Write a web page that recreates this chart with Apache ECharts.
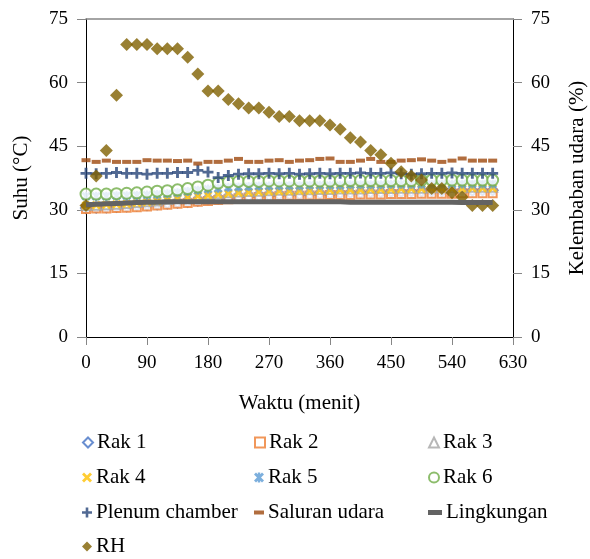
<!DOCTYPE html>
<html>
<head>
<meta charset="utf-8">
<script src="https://cdn.jsdelivr.net/npm/echarts@6/dist/echarts.min.js"></script>
<style>
  html, body { margin: 0; padding: 0; background: #fff; }
  #chart { width: 590px; height: 559px; }
</style>
</head>
<body>
<div id="chart"></div>
<script>
// waktu pengukuran (menit)
const waktu = [0, 15, 30, 45, 60, 75, 90, 105, 120, 135, 150, 165, 180, 195, 210, 225, 240, 255, 270, 285,
  300, 315, 330, 345, 360, 375, 390, 405, 420, 435, 450, 465, 480, 495, 510, 525, 540, 555, 570, 585, 600];

// suhu (°C)
const rak1 = [30.4, 30.5, 30.6, 30.7, 30.8, 31.0, 31.1, 31.3, 31.5, 31.7, 31.9, 32.2, 32.5, 32.7, 32.9, 33.1, 33.2, 33.3, 33.4, 33.5,
  33.6, 33.6, 33.7, 33.8, 33.8, 33.9, 34.0, 34.0, 34.1, 34.1, 34.2, 34.2, 34.3, 34.3, 34.4, 34.4, 34.5, 34.5, 34.5, 34.6, 34.6];
const rak2 = [30.2, 30.3, 30.3, 30.4, 30.5, 30.6, 30.8, 31.0, 31.2, 31.4, 31.6, 31.9, 32.1, 32.3, 32.5, 32.7, 32.9, 33.0, 33.1, 33.2,
  33.3, 33.3, 33.4, 33.4, 33.5, 33.5, 33.5, 33.6, 33.6, 33.6, 33.7, 33.7, 33.7, 33.8, 33.8, 33.8, 33.8, 33.9, 33.9, 33.9, 33.9];
const rak3 = [31.0, 31.1, 31.2, 31.3, 31.5, 31.7, 31.9, 32.1, 32.4, 32.7, 33.0, 33.3, 33.6, 33.8, 34.0, 34.2, 34.3, 34.4, 34.5, 34.6,
  34.6, 34.7, 34.7, 34.8, 34.8, 34.9, 34.9, 34.9, 35.0, 35.0, 35.0, 35.1, 35.1, 35.1, 35.2, 35.2, 35.2, 35.2, 35.3, 35.3, 35.3];
const rak4 = [31.0, 31.1, 31.2, 31.3, 31.4, 31.6, 31.8, 32.0, 32.3, 32.6, 32.9, 33.2, 33.4, 33.6, 33.8, 34.0, 34.1, 34.2, 34.3, 34.4,
  34.4, 34.5, 34.5, 34.6, 34.6, 34.7, 34.7, 34.7, 34.8, 34.8, 34.8, 34.9, 34.9, 34.9, 35.0, 35.0, 35.0, 35.0, 35.1, 35.1, 35.1];
const rak5 = [33.2, 33.2, 33.2, 33.3, 33.3, 33.4, 33.5, 33.6, 33.8, 34.0, 34.3, 34.6, 34.9, 35.1, 35.3, 35.4, 35.5, 35.6, 35.6, 35.7,
  35.7, 35.7, 35.8, 35.8, 35.8, 35.8, 35.9, 35.9, 35.9, 35.9, 36.0, 36.0, 36.0, 36.0, 36.0, 36.1, 36.1, 36.1, 36.1, 36.1, 36.1];
const rak6 = [33.7, 33.7, 33.7, 33.8, 33.9, 34.0, 34.2, 34.4, 34.5, 34.7, 35.0, 35.4, 35.8, 36.3, 36.6, 36.7, 36.7, 36.7, 36.8, 36.8,
  36.8, 36.8, 36.8, 36.8, 36.8, 36.9, 36.9, 36.9, 36.9, 36.9, 36.9, 36.9, 36.9, 37.0, 37.0, 37.0, 37.0, 37.0, 37.0, 37.0, 37.0];
const plenum = [38.6, 38.5, 38.6, 38.8, 38.6, 38.6, 38.4, 38.6, 38.6, 38.8, 38.8, 39.3, 38.9, 37.6, 38.1, 38.4, 38.5, 38.5, 38.6, 38.5,
  38.6, 38.4, 38.5, 38.6, 38.5, 38.6, 38.6, 38.7, 38.6, 38.6, 38.7, 38.5, 38.4, 38.5, 38.6, 38.6, 38.7, 38.6, 38.6, 38.6, 38.6];
const saluran = [41.7, 41.3, 41.6, 41.3, 41.3, 41.3, 41.7, 41.6, 41.6, 41.5, 41.6, 40.9, 41.3, 41.3, 41.6, 42.0, 41.3, 41.3, 41.6, 41.7,
  41.3, 41.6, 41.7, 42.0, 42.1, 41.3, 41.3, 41.6, 42.0, 41.3, 41.3, 41.6, 41.7, 41.9, 41.6, 41.3, 41.6, 42.1, 41.6, 41.6, 41.6];
const lingkungan = [31.2, 31.3, 31.4, 31.5, 31.6, 31.7, 31.8, 31.8, 31.9, 31.9, 31.9, 31.9, 31.9, 31.9, 31.9, 31.9, 31.9, 31.9, 31.9, 31.9,
  31.9, 31.9, 31.9, 31.9, 31.9, 31.9, 31.8, 31.8, 31.8, 31.8, 31.8, 31.8, 31.8, 31.8, 31.8, 31.8, 31.8, 31.7, 31.7, 31.7, 31.7];

// kelembaban relatif (%)
const rh = [31, 38, 44, 57, 69, 69, 69, 68, 68, 68, 66, 62, 58, 58, 56, 55, 54, 54, 53, 52,
  52, 51, 51, 51, 50, 49, 47, 46, 44, 43, 41, 39, 38, 37, 35, 35, 34, 33, 31, 31, 31];

const yTicks = [0, 15, 30, 45, 60, 75];
const xTicks = [0, 90, 180, 270, 360, 450, 540, 630];

const FONT = '"Liberation Serif", "Times New Roman", serif';

const symX = 'path://M0,2 L2,0 L5,3 L8,0 L10,2 L7,5 L10,8 L8,10 L5,7 L2,10 L0,8 L3,5 Z';
const symAst = 'path://M0,2 L2,0 L5,3 L8,0 L10,2 L7,5 L10,8 L8,10 L5,7 L2,10 L0,8 L3,5 Z M3.8,0 L6.2,0 L6.2,10 L3.8,10 Z';
const symPlus = 'path://M3.7,0 L6.3,0 L6.3,3.7 L10,3.7 L10,6.3 L6.3,6.3 L6.3,10 L3.7,10 L3.7,6.3 L0,6.3 L0,3.7 L3.7,3.7 Z';
const symDash = 'path://M0,0 L10,0 L10,4 L0,4 Z';

function pairs(vals) {
  return waktu.map((t, i) => [t, vals[i]]);
}

function dot(name, vals, symbol, size, color, extra) {
  return Object.assign({
    name: name,
    type: 'scatter',
    data: pairs(vals),
    symbol: symbol,
    symbolSize: size,
    itemStyle: { color: color, borderColor: color, borderWidth: 2 },
    emphasis: { disabled: true }
  }, extra || {});
}

const series = [
  dot('Rak 1', rak1, 'emptyDiamond', 10, '#4472C4'),
  dot('Rak 2', rak2, 'emptyRect', 8, '#ED7D31'),
  dot('Rak 3', rak3, 'emptyTriangle', 9, '#A5A5A5'),
  dot('Rak 4', rak4, symX, 9, '#FFC000', { itemStyle: { color: '#FFC000', borderWidth: 0 } }),
  dot('Rak 5', rak5, symAst, 9, '#5B9BD5', { itemStyle: { color: '#5B9BD5', borderWidth: 0 } }),
  dot('Rak 6', rak6, 'emptyCircle', 11, '#70AD47', { itemStyle: { color: '#70AD47', borderColor: '#70AD47', borderWidth: 2.5 } }),
  dot('Plenum chamber', plenum, symPlus, 11, '#264478', { itemStyle: { color: '#264478', borderWidth: 0 } }),
  dot('Saluran udara', saluran, 'rect', [9, 4], '#9E480E', { itemStyle: { color: '#9E480E', borderWidth: 0 } }),
  {
    name: 'Lingkungan',
    type: 'line',
    data: pairs(lingkungan),
    showSymbol: false,
    symbol: 'rect',
    itemStyle: { color: '#636363' },
    lineStyle: { color: '#636363', width: 5 },
    emphasis: { disabled: true }
  },
  dot('RH', rh, 'diamond', 13, '#7F6000', { yAxisIndex: 1, itemStyle: { color: '#7F6000', borderWidth: 0 } })
];

// legenda, tiga kolom
const legendCols = [82, 254, 428];
const legendRows = [432, 467, 502, 536];
const legendIcons = {
  'Rak 1': 'emptyDiamond', 'Rak 2': 'emptyRect', 'Rak 3': 'emptyTriangle', 'Rak 4': symX, 'Rak 5': symAst,
  'Rak 6': 'emptyCircle', 'Plenum chamber': symPlus, 'Saluran udara': symDash,
  'Lingkungan': 'path://M0,0 L14,0 L14,5 L0,5 Z', 'RH': 'diamond'
};
const legend = series.map((s, i) => ({
  data: [{ name: s.name, icon: legendIcons[s.name] }],
  left: legendCols[i % 3],
  top: legendRows[Math.floor(i / 3)],
  orient: 'horizontal',
  padding: 0,
  itemWidth: s.name === 'Lingkungan' ? 14 : 10,
  itemHeight: 10,
  itemGap: 0,
  selectedMode: false,
  itemStyle: { borderWidth: 2 },
  textStyle: { fontFamily: FONT, fontSize: 21, color: '#000', padding: [0, 0, 0, -1] }
}));

const tickLabel = { fontFamily: FONT, fontSize: 19, color: '#000' };
const nameStyle = { fontFamily: FONT, fontSize: 21, color: '#000' };

const chart = echarts.init(document.getElementById('chart'), null, { renderer: 'canvas' });
chart.setOption({
  backgroundColor: '#ffffff',
  animation: false,
  grid: { left: 86, right: 77, top: 19, bottom: 222, containLabel: false, outerBoundsMode: 'none' },
  legend: legend,
  xAxis: [{
    type: 'value',
    min: xTicks[0],
    max: xTicks[xTicks.length - 1],
    interval: 90,
    name: 'Waktu (menit)',
    nameLocation: 'middle',
    nameGap: 56,
    nameTextStyle: nameStyle,
    axisLine: { show: true, onZero: false, lineStyle: { color: '#000', width: 1 } },
    axisTick: { show: true, length: 8, lineStyle: { color: '#868686' } },
    axisLabel: Object.assign({ margin: 17 }, tickLabel),
    splitLine: { show: false }
  }, {
    type: 'value',
    position: 'top',
    min: xTicks[0],
    max: xTicks[xTicks.length - 1],
    axisLine: { show: true, onZero: false, lineStyle: { color: '#868686', width: 1.5 } },
    axisTick: { show: false },
    axisLabel: { show: false },
    splitLine: { show: false }
  }],
  yAxis: [{
    type: 'value',
    min: yTicks[0],
    max: yTicks[yTicks.length - 1],
    interval: 15,
    name: 'Suhu (°C)',
    nameLocation: 'middle',
    nameRotate: 90,
    nameGap: 54,
    nameTextStyle: nameStyle,
    axisLine: { show: true, onZero: false, lineStyle: { color: '#000', width: 1 } },
    axisTick: { show: true, length: 9, lineStyle: { color: '#868686' } },
    axisLabel: Object.assign({ margin: 18 }, tickLabel),
    splitLine: { show: false }
  }, {
    type: 'value',
    position: 'right',
    min: yTicks[0],
    max: yTicks[yTicks.length - 1],
    interval: 15,
    name: 'Kelembaban udara (%)',
    nameLocation: 'middle',
    nameRotate: 90,
    nameGap: 54,
    nameTextStyle: nameStyle,
    axisLine: { show: true, onZero: false, lineStyle: { color: '#000', width: 1 } },
    axisTick: { show: true, length: 9, lineStyle: { color: '#868686' } },
    axisLabel: Object.assign({ margin: 18 }, tickLabel),
    splitLine: { show: false }
  }],
  series: series
});
</script>
</body>
</html>
